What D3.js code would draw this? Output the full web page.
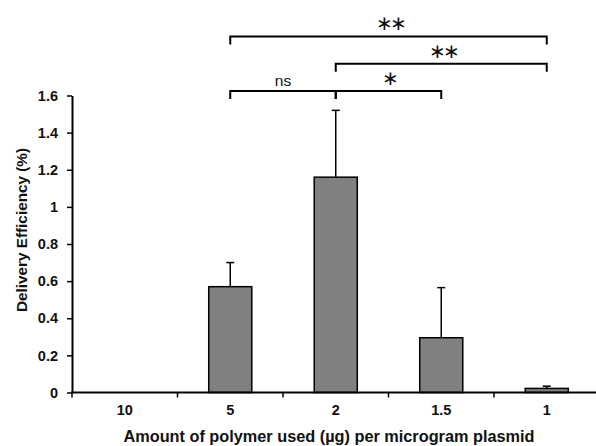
<!DOCTYPE html>
<html>
<head>
<meta charset="utf-8">
<script src="https://cdn.jsdelivr.net/npm/d3@7"></script>
<style>
  body { margin: 0; background: #fff; }
  text { font-family: "Liberation Sans", Arial, sans-serif; fill: #111; }
</style>
</head>
<body>
<div id="chart"></div>
<script>
// data
var doses = ["10", "5", "2", "1.5", "1"];
var efficiency = [0, 0.57, 1.16, 0.295, 0.022];
var errors = [0, 0.13, 0.36, 0.27, 0.012];
var yTicks = [0, 0.2, 0.4, 0.6, 0.8, 1, 1.2, 1.4, 1.6];

// significance brackets: from, to, label, level (stacked above the plot)
var compFrom = ["5", "2", "5", "2"];
var compTo = ["1", "1", "2", "1.5"];
var compLabel = ["\u2217\u2217", "\u2217\u2217", "ns", "\u2217"];
var compLevel = [2, 1, 0, 0];

var width = 596, height = 446;
var margin = { top: 95.5, right: -3.5, bottom: 53.5, left: 72 };
var chartWidth = width - margin.left - margin.right;
var chartHeight = height - margin.top - margin.bottom;

var svg = d3.select("#chart").append("svg")
    .attr("width", width)
    .attr("height", height);

var chartGroup = svg.append("g")
    .attr("transform", `translate(${margin.left}, ${margin.top})`);

var x = d3.scaleBand()
    .domain(doses)
    .range([0, chartWidth])
    .paddingInner(0.592)
    .paddingOuter(0.296);

var y = d3.scaleLinear()
    .domain([0, 1.6])
    .range([chartHeight, 0]);

var cx = d => x(d) + x.bandwidth() / 2;

// bars
chartGroup.selectAll("rect.bar")
    .data(doses)
    .enter()
    .append("rect")
    .attr("class", "bar")
    .filter((d, i) => efficiency[i] > 0)
    .attr("x", d => x(d))
    .attr("width", x.bandwidth())
    .attr("y", d => y(efficiency[doses.indexOf(d)]))
    .attr("height", d => chartHeight - y(efficiency[doses.indexOf(d)]))
    .attr("fill", "#808080")
    .attr("stroke", "#000")
    .attr("stroke-width", 1.5);

// error bars (upper only)
var errG = chartGroup.selectAll("g.err")
    .data(doses.filter((d, i) => errors[i] > 0))
    .enter()
    .append("g")
    .attr("class", "err");

errG.append("line")
    .attr("x1", d => cx(d)).attr("x2", d => cx(d))
    .attr("y1", d => y(efficiency[doses.indexOf(d)]))
    .attr("y2", d => { var i = doses.indexOf(d); return y(efficiency[i] + errors[i]); })
    .attr("stroke", "#000").attr("stroke-width", 1.5);

errG.append("line")
    .attr("x1", d => cx(d) - 4).attr("x2", d => cx(d) + 4)
    .attr("y1", d => { var i = doses.indexOf(d); return y(efficiency[i] + errors[i]); })
    .attr("y2", d => { var i = doses.indexOf(d); return y(efficiency[i] + errors[i]); })
    .attr("stroke", "#000").attr("stroke-width", 1.5);

// axes
var leftAxis = d3.axisLeft(y)
    .tickValues(yTicks)
    .tickFormat(d => d === 0 ? "0" : d3.format("~g")(d))
    .tickSizeInner(5)
    .tickSizeOuter(0)
    .tickPadding(9);

var yAxisG = chartGroup.append("g").call(leftAxis);
yAxisG.select(".domain").attr("stroke-width", 2);
yAxisG.selectAll(".tick line").attr("stroke-width", 1.5);
yAxisG.selectAll("text")
    .attr("font-size", 14.5)
    .attr("font-weight", "bold")
    .attr("font-family", "Liberation Sans, Arial, sans-serif")
    .attr("fill", "#111");

var xAxisG = chartGroup.append("g")
    .attr("transform", `translate(0, ${chartHeight})`);
xAxisG.append("line")
    .attr("x1", -1).attr("x2", chartWidth)
    .attr("stroke", "#000").attr("stroke-width", 2);
// tick marks at band boundaries
var boundaries = doses.map(d => x(d) - x.step() * x.paddingInner() / 2);
xAxisG.selectAll("line.tk")
    .data(boundaries)
    .enter()
    .append("line")
    .attr("class", "tk")
    .attr("x1", d => d).attr("x2", d => d)
    .attr("y1", 0).attr("y2", 5)
    .attr("stroke", "#000").attr("stroke-width", 1.5);
xAxisG.selectAll("text.tl")
    .data(doses)
    .enter()
    .append("text")
    .attr("class", "tl")
    .attr("x", d => cx(d))
    .attr("y", 22)
    .attr("text-anchor", "middle")
    .attr("font-size", 14.5)
    .attr("font-weight", "bold")
    .text(d => d);

// axis titles
svg.append("text")
    .attr("x", 329)
    .attr("y", 442)
    .attr("text-anchor", "middle")
    .attr("font-size", 16.3)
    .attr("font-weight", "bold")
    .text("Amount of polymer used (µg) per microgram plasmid");

svg.append("text")
    .attr("transform", "translate(27, 230) rotate(-90)")
    .attr("text-anchor", "middle")
    .attr("font-size", 15.3)
    .attr("font-weight", "bold")
    .text("Delivery Efficiency (%)");

// significance brackets
var levelY = lvl => -4.5 - lvl * 27.3;
var brackets = chartGroup.selectAll("g.br")
    .data(compLabel.map((l, i) => i))
    .enter()
    .append("g")
    .attr("class", "br");

brackets.append("path")
    .attr("d", i => {
        var x1 = cx(compFrom[i]), x2 = cx(compTo[i]), yy = levelY(compLevel[i]);
        return `M${x1},${yy + 8}V${yy}H${x2}V${yy + 8}`;
    })
    .attr("fill", "none")
    .attr("stroke", "#000")
    .attr("stroke-width", 2);

var isNs = i => compLabel[i] === "ns";
brackets.append("text")
    .attr("x", i => (cx(compFrom[i]) + cx(compTo[i])) / 2 + (isNs(i) ? 0 : compLabel[i].length > 1 ? 1.5 : 0))
    .attr("y", i => isNs(i) ? levelY(compLevel[i]) - 5 : levelY(compLevel[i]) - 6)
    .attr("text-anchor", "middle")
    .attr("font-size", i => isNs(i) ? 15.5 : 20)
    .attr("font-family", i => isNs(i) ? "Liberation Sans, Arial, sans-serif" : "DejaVu Sans, sans-serif")
    .attr("letter-spacing", i => isNs(i) ? 0 : -3)
    .text(i => compLabel[i]);
</script>
</body>
</html>
